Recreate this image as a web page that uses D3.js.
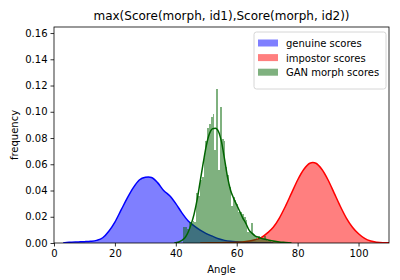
<!DOCTYPE html>
<html>
<head>
<meta charset="utf-8">
<script src="https://cdn.jsdelivr.net/npm/d3@7"></script>
<style>
  body{margin:0;background:#fff;}
  svg{display:block;font-family:"DejaVu Sans",sans-serif;}
</style>
</head>
<body>
<svg id="chart" width="400" height="280"></svg>
<script>
// KDE of genuine scores (blue)
const genuineX=[3,5,8,10,12,14,16,18,20,22,24,26,28,30,31,32,34,36,38,40,42,44,46,48,50,52,54,56,58,60,62,65,68,72];
const genuineY=[0,0.0005,0.0008,0.001,0.0013,0.002,0.004,0.009,0.016,0.025,0.034,0.042,0.048,0.0501,0.0503,0.0499,0.046,0.040,0.036,0.030,0.023,0.017,0.013,0.0098,0.0072,0.0052,0.0032,0.002,0.0013,0.0009,0.0006,0.0003,0.0002,0];

// KDE of impostor scores (red)
const impostorX=[48,52,56,60,63,66,68,70,72,74,76,78,80,82,84,85,86,88,90,92,94,96,98,100,102,104,106,108,110,112];
const impostorY=[0,0.0001,0.0003,0.0006,0.0012,0.0025,0.004,0.0075,0.012,0.019,0.028,0.038,0.048,0.056,0.0608,0.0613,0.0608,0.056,0.048,0.038,0.028,0.019,0.012,0.007,0.0035,0.0015,0.0006,0.0002,0.0001,0];

// GAN morph scores: histogram (density) + KDE (green)
const ganBinStart=42.5, ganBinWidth=0.6;
const ganHist=[0.012,0.012,0.011,0.016,0.015,0.017,0.016,0.038,0.036,0.048,0.050,0.065,0.078,0.088,0.091,0.096,0.098,0.071,0.117,0.056,
  0.104,0.079,0.078,0.058,0.052,0.043,0.028,0.035,0.033,0.030,0.024,0.024,0.022,0.020,0.0175,0.0086,0.009,0.015,0.006,0.005,
  0.003,0.005,0.003,0.004,0.0055,0.002,0.0015,0.002,0.001,0.0015,0.001,0.0005,0.001,0.0005,0.0005,0.0005];
const ganX=[39.5,41,42,43,44,45,46,47,48,49,50,51,52,53,54,55,56,57,58,59,60,61,62,63,64,65,66,67,68,70,72,74,76,78];
const ganY=[0,0.0008,0.002,0.004,0.008,0.014,0.022,0.033,0.047,0.061,0.074,0.083,0.087,0.0875,0.085,0.077,0.064,0.050,0.040,0.034,0.029,0.024,0.019,0.015,0.010,0.0075,0.0055,0.0045,0.0035,0.0025,0.0015,0.0008,0.0004,0];

const xTicks=[0,20,40,60,80,100];
const yTicks=[0,0.02,0.04,0.06,0.08,0.10,0.12,0.14,0.16];
const legendLabels=["genuine scores","impostor scores","GAN morph scores"];
const legendColors=["rgba(0,0,255,0.5)","rgba(255,0,0,0.5)","rgba(0,100,0,0.5)"];

const svg=d3.select("#chart");
const m={top:27,right:11,bottom:37,left:54};
const W=400,H=280;

const x=d3.scaleLinear().domain([0,110]).range([m.left,W-m.right]);
const y=d3.scaleLinear().domain([0,0.1646]).range([H-m.bottom,m.top]);

svg.append("defs").append("clipPath").attr("id","clip")
  .append("rect").attr("x",m.left).attr("y",m.top)
  .attr("width",W-m.left-m.right).attr("height",H-m.top-m.bottom);

const plot=svg.append("g").attr("clip-path","url(#clip)");

function pts(xs,ys){return xs.map((v,i)=>[v,ys[i]]);}
const area=d3.area().x(d=>x(d[0])).y0(y(0)).y1(d=>y(d[1])).curve(d3.curveMonotoneX);
const line=d3.line().x(d=>x(d[0])).y(d=>y(d[1])).curve(d3.curveMonotoneX);

const genuine=pts(genuineX,genuineY);
const impostor=pts(impostorX,impostorY);
const gan=pts(ganX,ganY);

plot.append("path").attr("d",area(genuine)).attr("fill","blue").attr("fill-opacity",0.5);
plot.append("path").attr("d",line(genuine)).attr("fill","none").attr("stroke","blue").attr("stroke-width",1.5);

plot.append("path").attr("d",area(impostor)).attr("fill","red").attr("fill-opacity",0.5);
plot.append("path").attr("d",line(impostor)).attr("fill","none").attr("stroke","red").attr("stroke-width",1.5);

plot.selectAll(".bar")
  .data(ganHist)
  .join("rect")
  .attr("class","bar")
  .attr("x",(d,i)=>x(ganBinStart+i*ganBinWidth))
  .attr("width",(d,i)=>x(ganBinStart+(i+1)*ganBinWidth)-x(ganBinStart+i*ganBinWidth))
  .attr("y",d=>y(d))
  .attr("height",d=>y(0)-y(d))
  .attr("fill","darkgreen")
  .attr("fill-opacity",0.5)
  .attr("shape-rendering","crispEdges");

plot.append("path").attr("d",line(gan)).attr("fill","none").attr("stroke","darkgreen").attr("stroke-width",1.5);

// axes
const fs="10px";
const xAxis=svg.append("g")
  .attr("transform",`translate(0,${H-m.bottom})`)
  .call(d3.axisBottom(x).tickValues(xTicks).tickSize(3.5).tickPadding(3).tickFormat(d3.format("d")));
const yAxis=svg.append("g")
  .attr("transform",`translate(${m.left},0)`)
  .call(d3.axisLeft(y).tickValues(yTicks).tickSize(3.5).tickPadding(3).tickFormat(d3.format(".2f")));
[xAxis,yAxis].forEach(a=>{
  a.select(".domain").remove();
  a.selectAll("text").attr("font-size",fs).attr("fill","#000").attr("font-family","DejaVu Sans");
  a.selectAll("line").attr("stroke","#000").attr("stroke-width",0.8);
});

svg.append("rect")
  .attr("x",m.left).attr("y",m.top)
  .attr("width",W-m.left-m.right).attr("height",H-m.top-m.bottom)
  .attr("fill","none").attr("stroke","#000").attr("stroke-width",0.8);

svg.append("text")
  .attr("x",(m.left+W-m.right)/2).attr("y",20)
  .attr("text-anchor","middle").attr("font-size","12px")
  .text("max(Score(morph, id1),Score(morph, id2))");

svg.append("text")
  .attr("x",(m.left+W-m.right)/2).attr("y",273)
  .attr("text-anchor","middle").attr("font-size",fs)
  .text("Angle");

svg.append("text")
  .attr("transform",`translate(18,${(m.top+H-m.bottom)/2}) rotate(-90)`)
  .attr("text-anchor","middle").attr("font-size",fs)
  .text("frequency");

// legend
const lg=svg.append("g").attr("transform","translate(254,32)");
lg.append("rect").attr("width",132).attr("height",57).attr("rx",2.5)
  .attr("fill","#fff").attr("fill-opacity",0.8).attr("stroke","#ccc").attr("stroke-width",0.8);
legendLabels.forEach((t,i)=>{
  const row=lg.append("g").attr("transform",`translate(0,${8+i*14.6})`);
  row.append("rect").attr("x",4).attr("y",-0.5).attr("width",20).attr("height",7).attr("fill",legendColors[i]);
  row.append("text").attr("x",32).attr("y",7).attr("font-size",fs).text(t);
});
</script>
</body>
</html>
